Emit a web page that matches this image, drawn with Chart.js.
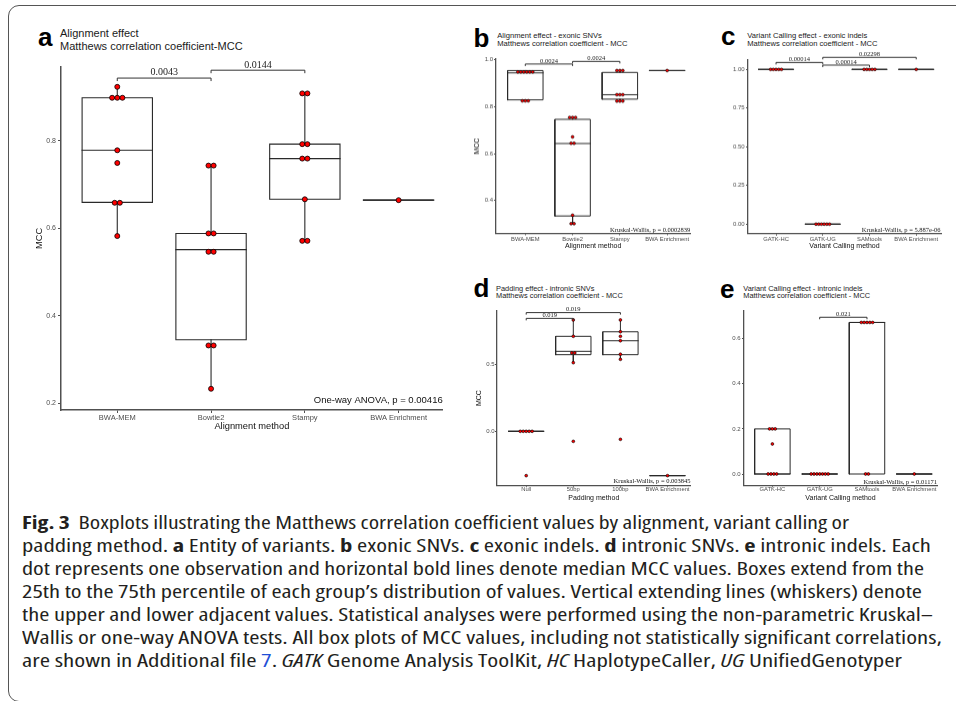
<!DOCTYPE html>
<html>
<head>
<meta charset="utf-8">
<script src="https://cdn.jsdelivr.net/npm/chart.js@4.4.1/dist/chart.umd.min.js"></script>
<style>
 html,body{margin:0;padding:0;background:#fff;}
 body{width:956px;height:701px;position:relative;overflow:hidden;}
 #frame{position:absolute;left:8px;top:5px;width:1000px;height:697px;border:1.2px solid #555;border-radius:11px;box-sizing:border-box;}
 .chart{position:absolute;}
 .lt{position:absolute;font-family:"Liberation Sans",Arial,sans-serif;font-weight:bold;font-size:26px;line-height:26px;color:#000;}
 .tt{position:absolute;font-family:"Liberation Sans",Arial,sans-serif;color:#1a1a1a;white-space:nowrap;}
 .cap{position:absolute;left:22px;height:23px;line-height:23px;font-family:"Open Sans",Lato,sans-serif;font-stretch:75%;font-size:18px;color:#231f20;white-space:nowrap;transform-origin:0 50%;}
 .cap b{font-weight:bold;}
 .lnk{color:#1f4fd6;}
</style>
</head>
<body>
<div id="frame"></div>

<div class="lt" style="left:38px;top:24px;">a</div>
<div class="tt" style="left:60px;top:26.5px;font-size:11px;line-height:13.7px;">Alignment effect<br>Matthews correlation coefficient-MCC</div>

<div class="lt" style="left:473.5px;top:24.5px;">b</div>
<div class="tt" style="left:497.3px;top:32.3px;font-size:7.6px;line-height:8px;">Alignment effect - exonic SNVs<br>Matthews correlation coefficient - MCC</div>

<div class="lt" style="left:721px;top:23px;">c</div>
<div class="tt" style="left:747.3px;top:32.3px;font-size:7.6px;line-height:8px;">Variant Calling effect - exonic indels<br>Matthews correlation coefficient - MCC</div>

<div class="lt" style="left:473.5px;top:274.7px;">d</div>
<div class="tt" style="left:496px;top:284.5px;font-size:7.4px;line-height:7.4px;">Padding effect - intronic SNVs<br>Matthews correlation coefficient - MCC</div>

<div class="lt" style="left:720px;top:276px;">e</div>
<div class="tt" style="left:743.3px;top:284.5px;font-size:7.4px;line-height:7.4px;">Variant Calling effect - intronic indels<br>Matthews correlation coefficient - MCC</div>

<div class="cap" data-r="849" style="top:510.5px"><b>Fig. 3</b>&nbsp; Boxplots illustrating the Matthews correlation coefficient values by alignment, variant calling or</div>
<div class="cap" data-r="931" style="top:533.5px">padding method. <b>a</b> Entity of variants. <b>b</b> exonic SNVs. <b>c</b> exonic indels. <b>d</b> intronic SNVs. <b>e</b> intronic indels. Each</div>
<div class="cap" data-r="924" style="top:556.5px">dot represents one observation and horizontal bold lines denote median MCC values. Boxes extend from the</div>
<div class="cap" data-r="922" style="top:579.5px">25th to the 75th percentile of each group’s distribution of values. Vertical extending lines (whiskers) denote</div>
<div class="cap" data-r="933" style="top:602.5px">the upper and lower adjacent values. Statistical analyses were performed using the non-parametric Kruskal–</div>
<div class="cap" data-r="942" style="top:625.5px">Wallis or one-way ANOVA tests. All box plots of MCC values, including not statistically significant correlations,</div>
<div class="cap" data-r="902" style="top:648.5px">are shown in Additional file <span class="lnk">7</span>. <i>GATK</i> Genome Analysis ToolKit, <i>HC</i> HaplotypeCaller, <i>UG</i> UnifiedGenotyper</div>

<script>
// ================= DATA =================
// Panel a – Alignment effect
const catsA = ["BWA-MEM", "Bowtie2", "Stampy", "BWA Enrichment"];
const dotsA = [
  [0.923, 0.898, 0.898, 0.898, 0.778, 0.749, 0.658, 0.658, 0.582],
  [0.743, 0.743, 0.588, 0.588, 0.546, 0.546, 0.332, 0.332, 0.233],
  [0.908, 0.908, 0.792, 0.792, 0.759, 0.759, 0.666, 0.571, 0.571],
  [0.664]
];
const loA  = [0.582, 0.233, 0.571, 0.664];
const q1A  = [0.659, 0.345, 0.666, 0.664];
const medA = [0.778, 0.551, 0.759, 0.664];
const q3A  = [0.898, 0.588, 0.792, 0.664];
const hiA  = [0.923, 0.743, 0.908, 0.664];
const yTicksA = [0.2, 0.4, 0.6, 0.8];
const yLabelsA = ["0.2", "0.4", "0.6", "0.8"];
const bracketsA = [[1, 2, 0.943, "0.0043"], [2, 3, 0.961, "0.0144"]];
const statA = "One-way ANOVA, p = 0.00416";

// Panel b – exonic SNVs
const catsB = ["BWA-MEM", "Bowtie2", "Stampy", "BWA Enrichment"];
const dotsB = [
  [0.948, 0.948, 0.948, 0.948, 0.948, 0.948, 0.825, 0.825, 0.825],
  [0.754, 0.754, 0.754, 0.671, 0.644, 0.644, 0.337, 0.301, 0.301],
  [0.954, 0.954, 0.954, 0.851, 0.851, 0.851, 0.824, 0.824, 0.824],
  [0.954]
];
const loB  = [0.825, 0.301, 0.824, 0.954];
const q1B  = [0.829, 0.334, 0.832, 0.954];
const medB = [0.944, 0.643, 0.851, 0.954];
const q3B  = [0.954, 0.746, 0.946, 0.954];
const hiB  = [0.954, 0.754, 0.954, 0.954];
const yTicksB = [0.4, 0.6, 0.8, 1.0];
const yLabelsB = ["0.4", "0.6", "0.8", "1.0"];
const bracketsB = [[1, 2, 0.982, "0.0024"], [2, 3, 0.993, "0.0024"]];
const statB = "Kruskal-Wallis, p = 0.0002839";

// Panel c – exonic indels
const catsC = ["GATK-HC", "GATK-UG", "SAMtools", "BWA Enrichment"];
const dotsC = [
  [1, 1, 1, 1, 1],
  [0, 0, 0, 0, 0, 0],
  [1, 1, 1, 1, 1],
  [1]
];
const loC  = [1, 0, 1, 1];
const q1C  = [1, 0, 1, 1];
const medC = [1, 0, 1, 1];
const q3C  = [1, 0, 1, 1];
const hiC  = [1, 0, 1, 1];
const yTicksC = [0, 0.25, 0.5, 0.75, 1];
const yLabelsC = ["0.00", "0.25", "0.50", "0.75", "1.00"];
const bracketsC = [[1, 2, 1.045, "0.00014"], [2, 3, 1.028, "0.00014"], [2, 4, 1.078, "0.02298"]];
const statC = "Kruskal-Wallis, p = 5.887e-06";

// Panel d – intronic SNVs
const catsD = ["Null", "50bp", "100bp", "BWA Enrichment"];
const dotsD = [
  [0, 0, 0, 0, 0, -0.331],
  [0.831, 0.709, 0.585, 0.585, 0.512, -0.075],
  [0.831, 0.743, 0.709, 0.676, 0.575, 0.537, -0.06],
  [-0.331]
];
const loD  = [0, 0.512, 0.537, -0.331];
const q1D  = [0, 0.572, 0.572, -0.331];
const medD = [0, 0.597, 0.676, -0.331];
const q3D  = [0, 0.709, 0.743, -0.331];
const hiD  = [0, 0.831, 0.831, -0.331];
const yTicksD = [0.0, 0.5];
const yLabelsD = ["0.0", "0.5"];
const bracketsD = [[1, 2, 0.843, "0.019"], [1, 3, 0.886, "0.019"]];
const statD = "Kruskal-Wallis, p = 0.003845";

// Panel e – intronic indels
const catsE = ["GATK-HC", "GATK-UG", "SAMtools", "BWA Enrichment"];
const dotsE = [
  [0.2, 0.2, 0.2, 0.133, 0, 0, 0, 0],
  [0, 0, 0, 0, 0, 0, 0],
  [0.672, 0.672, 0.672, 0.672, 0.672, 0, 0],
  [0]
];
const loE  = [0, 0, 0, 0];
const q1E  = [0, 0, 0, 0];
const medE = [0, 0, 0.672, 0];
const q3E  = [0.2, 0, 0.672, 0];
const hiE  = [0.2, 0, 0.672, 0];
const yTicksE = [0.0, 0.2, 0.4, 0.6];
const yLabelsE = ["0.0", "0.2", "0.4", "0.6"];
const bracketsE = [[2, 3, 0.695, "0.021"]];
const statE = "Kruskal-Wallis, p = 0.01171";

// ================= LAYOUT / STYLE =================
const SANS = "'Liberation Sans', Arial, sans-serif";
const SERIF = "'Liberation Serif', 'Times New Roman', serif";
const AX = '#505050';

const panels = [
  { cats: catsA, dots: dotsA, lo: loA, q1: q1A, med: medA, q3: q3A, hi: hiA,
    yTicks: yTicksA, yLabels: yLabelsA, brackets: bracketsA, stat: statA,
    xTitle: "Alignment method", yTitle: "MCC",
    g: { L: 61, R: 446, T: 66.7, B: 410, yMin: 0.1845, yMax: 0.969, xMin: 0.4, xMax: 4.47,
         yW: 41, xH: 24, padTop: 11.7, tl: 3, axW: 1.5,
         yTickFont: 7, xTickFont: 7.5, yLabRight: 56, xLabY: 417.7,
         xTitleFont: 9.3, xTitleY: 426.7, yTitleFont: 9.3, yTitleX: 39,
         dotR: 2.5, dotBW: 0.8, dodge: 0.055, lw: 1.1,
         brFont: 10, brTick: 3, brGap: 2.7, statFont: "9.5px " + SANS, statDx: 0, statDy: 6.7 } },
  { cats: catsB, dots: dotsB, lo: loB, q1: q1B, med: medB, q3: q3B, hi: hiB,
    yTicks: yTicksB, yLabels: yLabelsB, brackets: bracketsB, stat: statB,
    xTitle: "Alignment method", yTitle: "MCC",
    g: { L: 496, R: 692.3, T: 59.3, B: 232.7, yMin: 0.26, yMax: 1.003, xMin: 0.38, xMax: 4.49,
         yW: 31, xH: 20, padTop: 9, tl: 2, axW: 1.3,
         yTickFont: 6, xTickFont: 5.8, yLabRight: 493, xLabY: 238.3,
         xTitleFont: 7, xTitleY: 245, yTitleFont: 7, yTitleX: 476.7,
         dotR: 1.4, dotBW: 0.6, dodge: 0.063, lw: 1,
         brFont: 6.5, brTick: 2, brGap: 1.2, statFont: "6.5px " + SERIF, statDx: 0, statDy: 1.5 } },
  { cats: catsC, dots: dotsC, lo: loC, q1: q1C, med: medC, q3: q3C, hi: hiC,
    yTicks: yTicksC, yLabels: yLabelsC, brackets: bracketsC, stat: statC,
    xTitle: "Variant Calling method", yTitle: null,
    g: { L: 747.7, R: 942.7, T: 60, B: 232.7, yMin: -0.061, yMax: 1.0604, xMin: 0.4, xMax: 4.53,
         yW: 33, xH: 20, padTop: 10, tl: 2, axW: 1.3,
         yTickFont: 6, xTickFont: 5.8, yLabRight: 744.3, xLabY: 238.3,
         xTitleFont: 7, xTitleY: 245, yTitleFont: 7, yTitleX: 0,
         dotR: 1.4, dotBW: 0.6, dodge: 0.058, lw: 1,
         brFont: 6.5, brTick: 2, brGap: 1.2, statFont: "6.5px " + SERIF, statDx: -0.4, statDy: 1.5 } },
  { cats: catsD, dots: dotsD, lo: loD, q1: q1D, med: medD, q3: q3D, hi: hiD,
    yTicks: yTicksD, yLabels: yLabelsD, brackets: bracketsD, stat: statD,
    xTitle: "Padding method", yTitle: "MCC",
    g: { L: 496.7, R: 692.3, T: 311, B: 485.3, yMin: -0.403, yMax: 0.898, xMin: 0.38, xMax: 4.49,
         yW: 31, xH: 20, padTop: 10, tl: 2, axW: 1.3,
         yTickFont: 6, xTickFont: 5.8, yLabRight: 494.3, xLabY: 489.5,
         xTitleFont: 7, xTitleY: 497.7, yTitleFont: 7, yTitleX: 478.3,
         dotR: 1.4, dotBW: 0.6, dodge: 0.063, lw: 1,
         brFont: 6.5, brTick: 2, brGap: 1.2, statFont: "6.5px " + SERIF, statDx: 0, statDy: 2.3 } },
  { cats: catsE, dots: dotsE, lo: loE, q1: q1E, med: medE, q3: q3E, hi: hiE,
    yTicks: yTicksE, yLabels: yLabelsE, brackets: bracketsE, stat: statE,
    xTitle: "Variant Calling method", yTitle: null,
    g: { L: 744, R: 939, T: 311, B: 485.3, yMin: -0.0501, yMax: 0.7228, xMin: 0.4, xMax: 4.48,
         yW: 32, xH: 20, padTop: 10, tl: 2, axW: 1.3,
         yTickFont: 6, xTickFont: 5.8, yLabRight: 740.7, xLabY: 489.5,
         xTitleFont: 7, xTitleY: 497.7, yTitleFont: 7, yTitleX: 0,
         dotR: 1.4, dotBW: 0.6, dodge: 0.06, lw: 1,
         brFont: 6.5, brTick: 2, brGap: 1.2, statFont: "6.5px " + SERIF, statDx: 0, statDy: 1.8 } }
];

// ================= PLUGIN: significance brackets + test label =================
const annotPlugin = {
  id: 'annot',
  afterDraw(chart, args, o) {
    const { ctx, chartArea: ca, scales: { x, y } } = chart;
    ctx.save();
    ctx.strokeStyle = '#333'; ctx.fillStyle = '#222'; ctx.lineWidth = 1;
    ctx.font = o.brFont + "px " + SERIF; ctx.textAlign = 'center'; ctx.textBaseline = 'alphabetic';
    o.brackets.forEach(([a, b, v, label]) => {
      const x1 = x.getPixelForValue(a), x2 = x.getPixelForValue(b), py = y.getPixelForValue(v);
      ctx.beginPath();
      ctx.moveTo(x1, py + o.brTick); ctx.lineTo(x1, py); ctx.lineTo(x2, py); ctx.lineTo(x2, py + o.brTick);
      ctx.stroke();
      ctx.fillText(label, (x1 + x2) / 2, py - o.brGap);
    });
    ctx.font = o.statFont; ctx.textAlign = 'right'; ctx.fillStyle = '#111';
    ctx.fillText(o.stat, ca.right + o.statDx, ca.bottom - o.statDy);
    ctx.restore();
  }
};

function dodge(cols, step) {
  const out = [];
  cols.forEach((col, i) => {
    const groups = new Map();
    col.forEach(v => groups.set(v, (groups.get(v) || 0) + 1));
    groups.forEach((n, v) => {
      for (let k = 0; k < n; k++) out.push({ x: i + 1 + (k - (n - 1) / 2) * step, y: v });
    });
  });
  return out;
}

function makeChart(p) {
  const g = p.g;
  const left = g.L - g.yW, top = g.T - g.padTop;
  const w = g.R - left, h = g.B + g.xH - top;
  const div = document.createElement('div');
  div.className = 'chart';
  div.style.cssText = `left:${left}px;top:${top}px;width:${w}px;height:${h}px;`;
  const cv = document.createElement('canvas');
  div.appendChild(cv);
  document.body.appendChild(div);

  const hw = 0.375;
  const boxes = [], meds = [], whisk = [];
  p.q1.forEach((_, i) => {
    const c = i + 1;
    boxes.push({ x: c - hw, y: p.q1[i] }, { x: c + hw, y: p.q1[i] }, { x: c + hw, y: p.q3[i] },
               { x: c - hw, y: p.q3[i] }, { x: c - hw, y: p.q1[i] }, { x: c, y: null });
    meds.push({ x: c - hw, y: p.med[i] }, { x: c + hw, y: p.med[i] }, { x: c, y: null });
    whisk.push({ x: c, y: p.q3[i] }, { x: c, y: p.hi[i] }, { x: c, y: null },
               { x: c, y: p.q1[i] }, { x: c, y: p.lo[i] }, { x: c, y: null });
  });
  const lineDs = (data, order) => ({
    data, showLine: true, spanGaps: false, pointRadius: 0, pointHoverRadius: 0,
    borderColor: '#2a2a2a', borderWidth: g.lw, borderJoinStyle: 'miter', borderCapStyle: 'square',
    fill: false, tension: 0, order, clip: false
  });

  const xLh = g.xTickFont * 1.2, xtLh = g.xTitleFont * 1.2, ytLh = g.yTitleFont * 1.2;
  new Chart(cv, {
    type: 'scatter',
    data: {
      datasets: [
        { data: dodge(p.dots, g.dodge), pointRadius: g.dotR, pointHoverRadius: g.dotR,
          pointBackgroundColor: '#ff0000', pointBorderColor: '#000', pointBorderWidth: g.dotBW,
          order: 0, clip: false },
        lineDs(meds, 1),
        lineDs(boxes, 2),
        lineDs(whisk, 3)
      ]
    },
    options: {
      responsive: true, maintainAspectRatio: false, animation: false, events: [],
      layout: { padding: { left: 0, right: 0, top: g.padTop, bottom: 0 } },
      plugins: {
        legend: { display: false }, tooltip: { enabled: false },
        annot: { brackets: p.brackets, stat: p.stat, brFont: g.brFont, brTick: g.brTick, brGap: g.brGap,
                 statFont: g.statFont, statDx: g.statDx, statDy: g.statDy }
      },
      scales: {
        x: {
          type: 'linear', min: g.xMin, max: g.xMax,
          afterBuildTicks: s => { s.ticks = p.cats.map((c, i) => ({ value: i + 1 })); },
          afterFit: s => { s.height = g.xH; s.paddingLeft = 0; s.paddingRight = 0; },
          ticks: { callback: v => p.cats[Math.round(v) - 1], autoSkip: false, maxRotation: 0, minRotation: 0,
                   font: { family: SANS, size: g.xTickFont }, color: '#4d4d4d',
                   padding: g.xLabY - g.B - g.tl - xLh / 2 },
          grid: { display: true, drawOnChartArea: false, drawTicks: true, tickLength: g.tl, color: AX, lineWidth: 1 },
          border: { display: true, color: AX, width: g.axW },
          title: { display: true, text: p.xTitle, color: '#111', font: { family: SANS, size: g.xTitleFont },
                   padding: { top: 0, bottom: g.B + g.xH - xtLh / 2 - g.xTitleY } }
        },
        y: {
          min: g.yMin, max: g.yMax,
          afterBuildTicks: s => { s.ticks = p.yTicks.map(v => ({ value: v })); },
          afterFit: s => { s.width = g.yW; s.paddingTop = 0; s.paddingBottom = 0; },
          ticks: { callback: (v, i) => p.yLabels[i], font: { family: SANS, size: g.yTickFont }, color: '#4d4d4d',
                   padding: g.L - g.tl - g.yLabRight },
          grid: { display: true, drawOnChartArea: false, drawTicks: true, tickLength: g.tl, color: AX, lineWidth: 1 },
          border: { display: true, color: AX, width: g.axW },
          title: { display: !!p.yTitle, text: p.yTitle || '', color: '#111', font: { family: SANS, size: g.yTitleFont },
                   padding: { top: g.yTitleX - left - ytLh / 2, bottom: 0 } }
        }
      }
    },
    plugins: [annotPlugin]
  });
}

panels.forEach(makeChart);

// fit caption lines to the reference line lengths
document.querySelectorAll('.cap').forEach(el => {
  const wNat = el.getBoundingClientRect().width;
  const target = parseFloat(el.dataset.r) - 22;
  el.style.transform = `scaleX(${target / wNat})`;
});
</script>
</body>
</html>
